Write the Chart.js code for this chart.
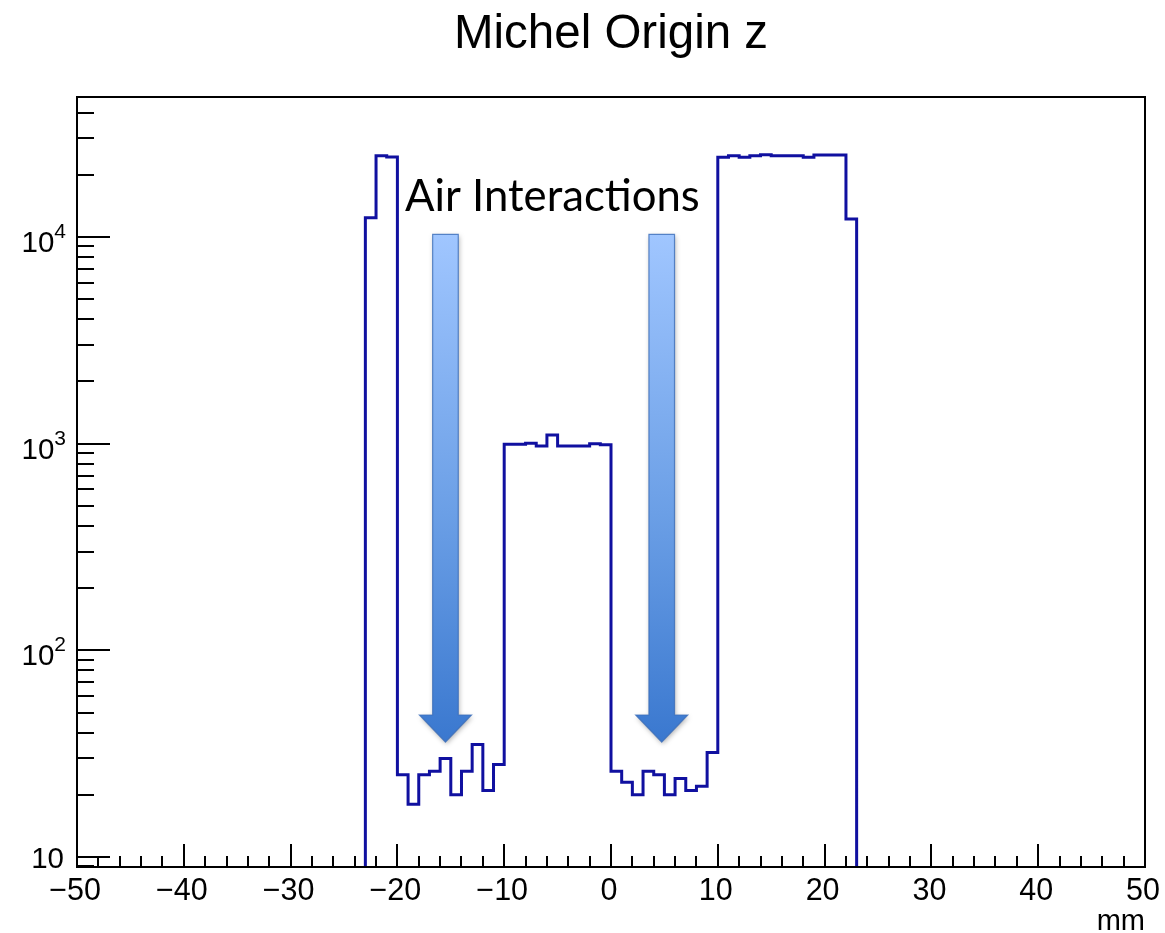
<!DOCTYPE html>
<html>
<head>
<meta charset="utf-8">
<title>Michel Origin z</title>
<script src="https://cdn.jsdelivr.net/npm/chart.js@4.4.1/dist/chart.umd.min.js"></script>
<style>
  html, body { margin: 0; padding: 0; background: #fff; }
  canvas { display: block; }
</style>
</head>
<body>
<canvas id="histo" width="1165" height="933"></canvas>
<script>
"use strict";

// histogram bins, 1 mm wide (low edge of each filled bin)
const binLow = [-23, -22, -21, -20, -19, -18, -17, -16, -15, -14, -13, -12, -11,
  -10, -9, -8, -7, -6, -5, -4, -3, -2, -1,
  0, 1, 2, 3, 4, 5, 6, 7, 8, 9,
  10, 11, 12, 13, 14, 15, 16, 17, 18, 19, 20, 21, 22];
const counts = [12400, 24700, 24400, 25, 18, 25, 26, 30, 20, 26, 35, 21, 28,
  994, 994, 1004, 975, 1100, 975, 975, 975, 999, 988,
  26, 23, 20, 26, 25, 20, 24, 21, 22, 32,
  24300, 24700, 24300, 24700, 25000, 24700, 24700, 24700, 24300, 24900, 24900, 24900, 12200];
const binWidth = 1;

// axis ranges and ticks
const xMin = -50, xMax = 50;
const yMin = 8.945, yMax = 47560;
const xMajorTicks = [-50, -40, -30, -20, -10, 0, 10, 20, 30, 40, 50];
const xMinorStep = 2;
const yMajorTicks = [10, 100, 1000, 10000];
const yTickLabels = ["10", "10^2", "10^3", "10^4"];

// annotation arrows (x centre in mm, top and tip in counts)
const arrowX = [-15.5, 4.75];
const arrowTop = 10300;
const arrowTip = 36;

// build the step outline: start and end on the bottom of the frame
let points = [{ x: binLow[0], y: yMin }];
for (let i = 0; i < binLow.length; i++) {
  points.push({ x: binLow[i], y: counts[i] });
}
points.push({ x: binLow[binLow.length - 1] + binWidth, y: yMin });

const FONT = "'Liberation Sans', Arial, sans-serif";

const rootAxes = {
  id: "rootAxes",
  afterDatasetsDraw(chart) {
    const ctx = chart.ctx;
    const a = chart.chartArea;
    const xs = chart.scales.x;
    const ys = chart.scales.y;
    ctx.save();

    // frame
    ctx.strokeStyle = "#000";
    ctx.lineWidth = 2;
    ctx.strokeRect(a.left, a.top, a.right - a.left, a.bottom - a.top);

    // x ticks (drawn inward)
    ctx.beginPath();
    for (let v = xMin; v <= xMax; v += xMinorStep) {
      const px = Math.round(xs.getPixelForValue(v));
      const len = xMajorTicks.includes(v) ? 23 : 11;
      ctx.moveTo(px, a.bottom);
      ctx.lineTo(px, a.bottom - len);
    }
    // y ticks, log decades with minors
    for (let dec = 1; dec <= 10000; dec *= 10) {
      for (let m = 1; m <= 9; m++) {
        const v = dec * m;
        if (v < yMin || v > yMax) continue;
        const py = Math.round(ys.getPixelForValue(v));
        const len = m === 1 ? 33 : 17;
        ctx.moveTo(a.left, py);
        ctx.lineTo(a.left + len, py);
      }
    }
    ctx.stroke();

    // x tick labels
    ctx.fillStyle = "#000";
    ctx.font = "30.5px " + FONT;
    ctx.textAlign = "center";
    ctx.textBaseline = "alphabetic";
    xMajorTicks.forEach(v => {
      const px = xs.getPixelForValue(v);
      const txt = v < 0 ? "\u2212" + Math.abs(v) : String(v);
      ctx.fillText(txt, px - 2, 900);
    });

    // x axis title
    ctx.textAlign = "right";
    ctx.font = "29px " + FONT;
    ctx.fillText("mm", a.right, 930);

    // y tick labels with superscript exponents
    yMajorTicks.forEach((v, i) => {
      const py = ys.getPixelForValue(v);
      const parts = yTickLabels[i].split("^");
      ctx.textAlign = "left";
      if (parts.length === 1) {
        ctx.font = "29.5px " + FONT;
        const w = ctx.measureText(parts[0]).width;
        ctx.fillText(parts[0], 64 - w, py + 11);
      } else {
        ctx.font = "21px " + FONT;
        const ws = ctx.measureText(parts[1]).width;
        ctx.fillText(parts[1], 66 - ws, py + 1);
        ctx.font = "29.5px " + FONT;
        const wb = ctx.measureText(parts[0]).width;
        ctx.fillText(parts[0], 66 - ws - wb, py + 15);
      }
    });

    // title
    ctx.textAlign = "center";
    ctx.font = "47.5px " + FONT;
    ctx.fillText("Michel Origin z", 611, 48);

    // annotation text
    let fs = 47;
    ctx.font = fs + "px Lato, 'Open Sans', sans-serif";
    const tw = ctx.measureText("Air Interactions").width;
    fs = fs * 295 / tw;
    ctx.font = fs.toFixed(1) + "px Lato, 'Open Sans', sans-serif";
    ctx.textAlign = "left";
    ctx.fillText("Air Interactions", 405, 211);

    // annotation arrows
    const yTop = ys.getPixelForValue(arrowTop);
    const yTip = ys.getPixelForValue(arrowTip);
    arrowX.forEach(xv => {
      const cx = xs.getPixelForValue(xv);
      const sw = 12.8, hw = 26, headTop = yTip - 27;
      const grad = ctx.createLinearGradient(0, yTop, 0, yTip);
      grad.addColorStop(0, "#a0c6ff");
      grad.addColorStop(0.55, "#6b9fe6");
      grad.addColorStop(1, "#3a78cf");
      ctx.beginPath();
      ctx.moveTo(cx - sw, yTop);
      ctx.lineTo(cx + sw, yTop);
      ctx.lineTo(cx + sw, headTop);
      ctx.lineTo(cx + hw, headTop);
      ctx.lineTo(cx, yTip);
      ctx.lineTo(cx - hw, headTop);
      ctx.lineTo(cx - sw, headTop);
      ctx.closePath();
      ctx.save();
      ctx.shadowColor = "rgba(0,0,0,0.3)";
      ctx.shadowBlur = 5;
      ctx.shadowOffsetX = 1;
      ctx.shadowOffsetY = 2;
      ctx.fillStyle = grad;
      ctx.fill();
      ctx.restore();
      ctx.strokeStyle = "rgba(60,110,185,0.8)";
      ctx.lineWidth = 1.2;
      ctx.stroke();
    });

    ctx.restore();
  }
};

const ctx = document.getElementById("histo").getContext("2d");
const chart = new Chart(ctx, {
  type: "line",
  data: {
    datasets: [{
      label: "Michel Origin z",
      data: points,
      stepped: "before",
      borderColor: "#1010a0",
      borderWidth: 3,
      pointRadius: 0,
      fill: false,
      tension: 0
    }]
  },
  options: {
    responsive: false,
    devicePixelRatio: 1,
    animation: false,
    layout: { padding: { left: 77, top: 97, right: 20, bottom: 66 } },
    scales: {
      x: { type: "linear", min: xMin, max: xMax, display: false },
      y: { type: "logarithmic", min: yMin, max: yMax, display: false }
    },
    plugins: {
      legend: { display: false },
      tooltip: { enabled: false },
      title: { display: false }
    }
  },
  plugins: [rootAxes]
});
</script>
</body>
</html>
